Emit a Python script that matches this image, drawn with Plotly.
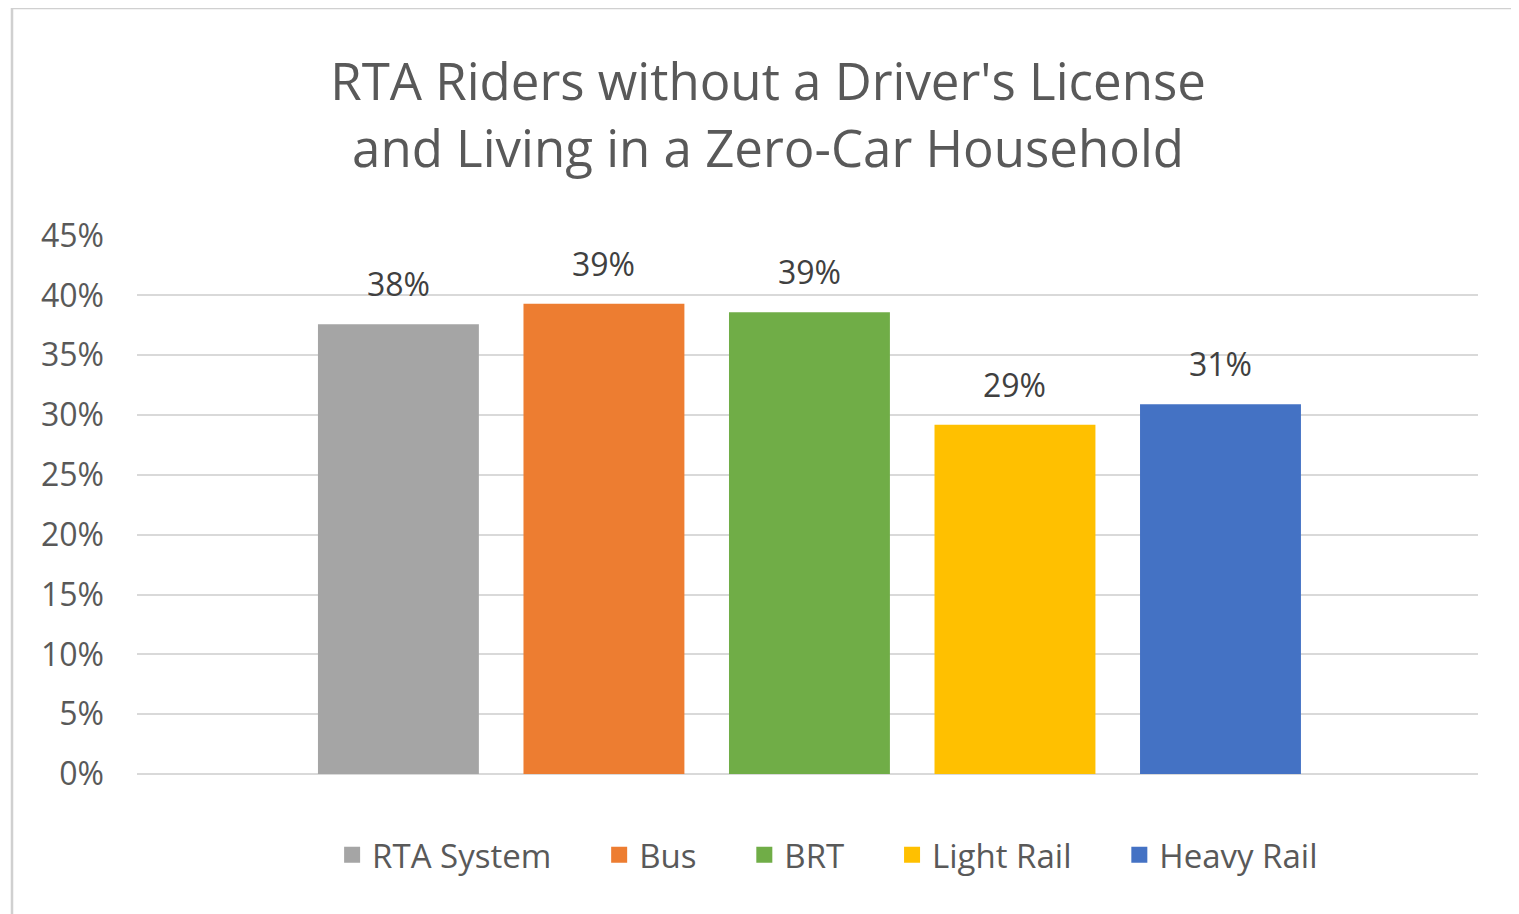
import plotly.graph_objects as go

# series (one bar each)
series = ["RTA System", "Bus", "BRT", "Light Rail", "Heavy Rail"]
values = [0.376, 0.393, 0.386, 0.292, 0.309]
labels = ["38%", "39%", "39%", "29%", "31%"]
colors = ["#A5A5A5", "#ED7D31", "#70AD47", "#FFC000", "#4472C4"]

y_ticks = [0, 0.05, 0.10, 0.15, 0.20, 0.25, 0.30, 0.35, 0.40, 0.45]
y_tick_text = ["0%", "5%", "10%", "15%", "20%", "25%", "30%", "35%", "40%", "45%"]

FONT = "Open Sans"
# page has an 8px body margin, so the figure is a bit smaller than the window
W, H = 1511, 906
L, R, T, B = 129, 41, 227, 140
pw, ph = W - L - R, H - T - B

fig = go.Figure()
for name, val, col in zip(series, values, colors):
    fig.add_trace(go.Bar(
        x=[name], y=[val], name=name,
        marker=dict(color=col, line_width=0),
        width=0.783, showlegend=False,
        hoverinfo="name+y",
    ))

# legend entries with square swatches like Excel; spacing via trailing nbsp
gap = "\u00a0" * 5
for i, (name, col) in enumerate(zip(series, colors)):
    fig.add_trace(go.Scatter(
        x=[None], y=[None], mode="markers",
        marker=dict(symbol="square", size=16, color=col),
        name=name + (gap if i < len(series) - 1 else ""),
        showlegend=True, hoverinfo="skip",
    ))

for name, val, lab in zip(series, values, labels):
    fig.add_annotation(
        x=name, y=val, text=lab, showarrow=False,
        yanchor="bottom", yshift=17,
        font=dict(family=FONT, size=32, color="#404040"),
    )

# chart frame (left and top edges only visible in the reference)
fx0 = (4 - L) / pw
fy1 = 1 + (T - 0) / ph
fy0 = -B / ph
fig.add_shape(type="line", xref="paper", yref="paper",
              x0=fx0, x1=fx0, y0=fy0, y1=fy1,
              line=dict(color="#D0D0D0", width=2.5))
fig.add_shape(type="line", xref="paper", yref="paper",
              x0=fx0, x1=1 + R / pw, y0=fy1, y1=fy1,
              line=dict(color="#D0D0D0", width=2.5))

fig.update_layout(
    width=W, height=H,
    margin=dict(l=L, r=R, t=T, b=B),
    paper_bgcolor="white", plot_bgcolor="white",
    font=dict(family=FONT, color="#595959"),
    title=dict(
        text="RTA Riders without a Driver's License<br>and Living in a Zero-Car Household",
        x=0.503, xanchor="center", xref="container",
        y=0.898, yanchor="middle",
        font=dict(family=FONT, size=51, color="#595959"),
    ),
    barmode="overlay",
    showlegend=True,
    legend=dict(
        orientation="h", x=0.515, xanchor="center", y=-0.150, yanchor="middle",
        font=dict(family=FONT, size=33, color="#595959"),
        itemwidth=30, tracegroupgap=0,
    ),
)

fig.update_xaxes(
    type="category", categoryorder="array", categoryarray=series,
    range=[-1.272, 5.253],
    showticklabels=False, showgrid=False, zeroline=False, showline=False,
    ticks="",
)
fig.update_yaxes(
    range=[0, 0.4505], tickvals=y_ticks, ticktext=y_tick_text,
    showgrid=True, gridcolor="#D9D9D9", gridwidth=2,
    zeroline=True, zerolinecolor="#D9D9D9", zerolinewidth=2,
    tickfont=dict(family=FONT, size=32, color="#595959"),
    ticks="", ticklabelstandoff=32,
)

fig.write_html("out.html")
